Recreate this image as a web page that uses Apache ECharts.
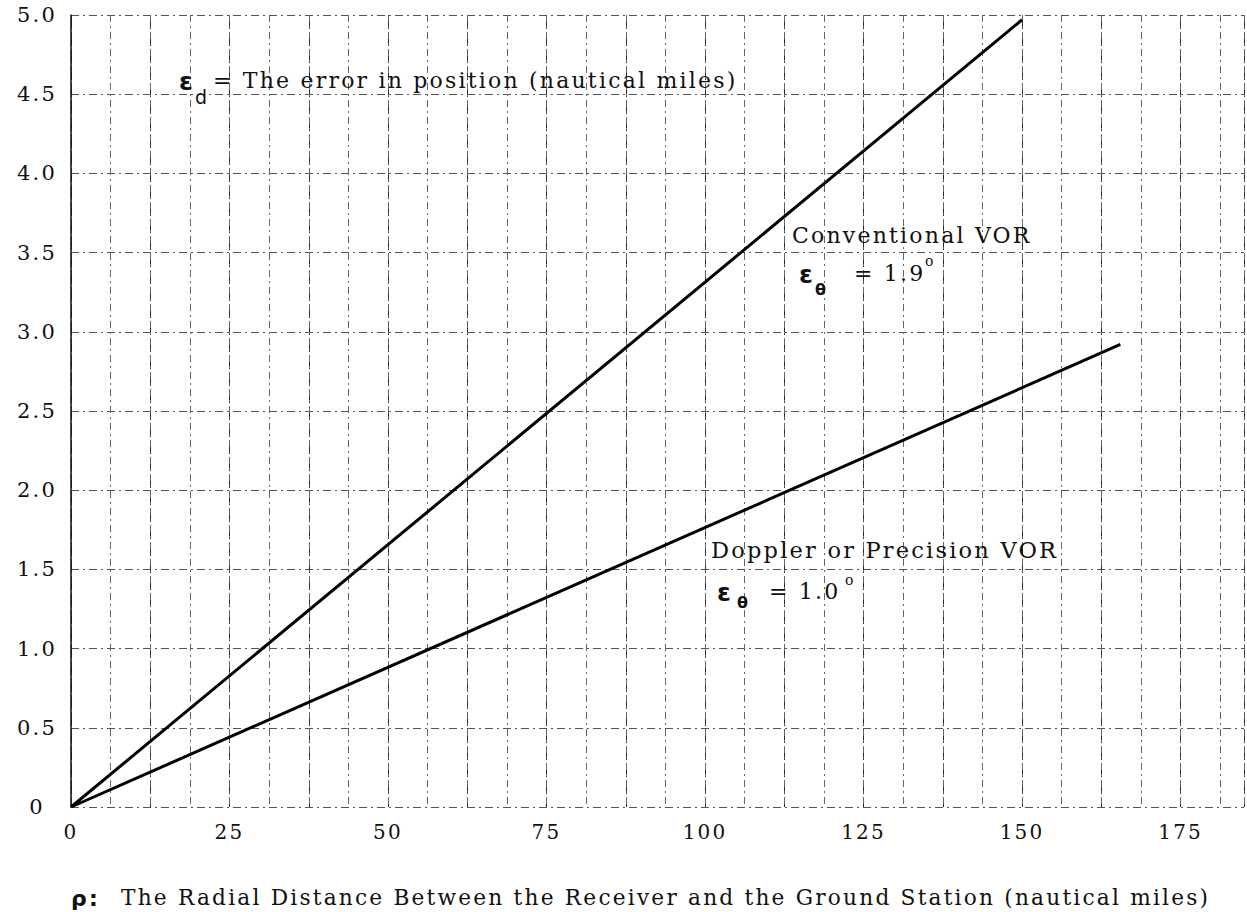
<!DOCTYPE html>
<html><head><meta charset="utf-8">
<script src="https://cdn.jsdelivr.net/npm/echarts@6/dist/echarts.min.js"></script>
<style>
html,body{margin:0;padding:0;background:#fff;}
#chart{width:1247px;height:912px;}
#chart text{letter-spacing:2.2px;}
</style></head><body><div id="chart"></div>
<script>
// ---- data ----
const xMin = 0, xMax = 185;
const yMin = 0, yMax = 5;
const xLabelValues = [0, 25, 50, 75, 100, 125, 150, 175];
const yLabelValues = [0, 0.5, 1.0, 1.5, 2.0, 2.5, 3.0, 3.5, 4.0, 4.5, 5.0];
const conventionalX = [0, 150];
const conventionalY = [0, 4.97];
const dopplerX = [0, 165.5];
const dopplerY = [0, 2.92];
const xTitle = 'The Radial Distance Between the Receiver and the Ground Station (nautical miles)';

const zip = (xs, ys) => xs.map((x, i) => [x, ys[i]]);
const serif = '"DejaVu Serif", "Liberation Serif", serif';
const sans = '"DejaVu Sans", "Liberation Sans", sans-serif';

function txt(x, y, text, font, align) {
  return {
    type: 'text', x: x, y: y, z: 100,
    style: { text: text, font: font, fill: '#111',
      textAlign: align || 'left', align: align || 'left',
      textVerticalAlign: 'middle', verticalAlign: 'middle' }
  };
}

const chart = echarts.init(document.getElementById('chart'), null, { renderer: 'svg' });
chart.setOption({
  animation: false,
  backgroundColor: '#fff',
  grid: { left: 71, right: 0, top: 15, bottom: 105 },
  xAxis: [{
    type: 'value', min: xMin, max: xMax, interval: 12.5,
    axisLine: { show: false }, axisTick: { show: false },
    axisLabel: {
      formatter: v => xLabelValues.indexOf(v) >= 0 ? String(v) : '',
      margin: 15, fontFamily: serif, fontSize: 20, color: '#111'
    },
    splitLine: { show: true, lineStyle: { color: '#2a2a2a', width: 1, type: [14, 3] } }
  }, {
    type: 'value', min: xMin, max: xMax, interval: 6.25, position: 'bottom',
    axisLine: { show: false }, axisTick: { show: false }, axisLabel: { show: false },
    splitLine: { show: true, lineStyle: { color: '#666', width: 1, type: [7, 4, 2, 4] } }
  }],
  yAxis: {
    type: 'value', min: yMin, max: yMax, interval: 0.5,
    axisLine: { show: true, lineStyle: { color: '#111', width: 1.5 } },
    axisTick: { show: false },
    axisLabel: {
      formatter: v => yLabelValues.indexOf(v) >= 0 ? (v === 0 ? '0' : v.toFixed(1)) : '',
      align: 'center', margin: 34, fontFamily: serif, fontSize: 21, color: '#111'
    },
    splitLine: { show: true, lineStyle: { color: '#555', width: 1, type: [8, 4, 2, 4] } }
  },
  series: [{
    name: 'Conventional VOR', type: 'line', xAxisIndex: 0, showSymbol: false, z: 10,
    data: zip(conventionalX, conventionalY),
    lineStyle: { color: '#000', width: 3 }
  }, {
    name: 'Doppler or Precision VOR', type: 'line', xAxisIndex: 0, showSymbol: false, z: 10,
    data: zip(dopplerX, dopplerY),
    lineStyle: { color: '#000', width: 3 }
  }],
  graphic: [
    // top annotation
    txt(179, 81, 'ε', 'bold 25px ' + sans),
    txt(195, 97, 'd', '19px ' + sans),
    txt(213, 80, '= The error in position (nautical miles)', '22px ' + serif),
    // conventional
    txt(792, 235, 'Conventional VOR', '22px ' + serif),
    txt(799, 274, 'ε', 'bold 25px ' + sans),
    txt(815, 289, 'θ', 'bold 16px ' + sans),
    txt(854, 273, '= 1.9', '22px ' + serif),
    txt(925, 261, 'o', '14px ' + serif),
    // doppler
    txt(711, 550, 'Doppler or Precision VOR', '22.5px ' + serif),
    txt(717, 592, 'ε', 'bold 25px ' + sans),
    txt(737, 602, 'θ', 'bold 16px ' + sans),
    txt(769, 591, '= 1.0', '22px ' + serif),
    txt(845, 580, 'o', '14px ' + serif),
    // x axis title
    txt(71, 898, 'ρ:', 'bold 22px ' + sans),
    txt(121, 897, xTitle, '21.7px ' + serif)
  ]
});
</script></body></html>
